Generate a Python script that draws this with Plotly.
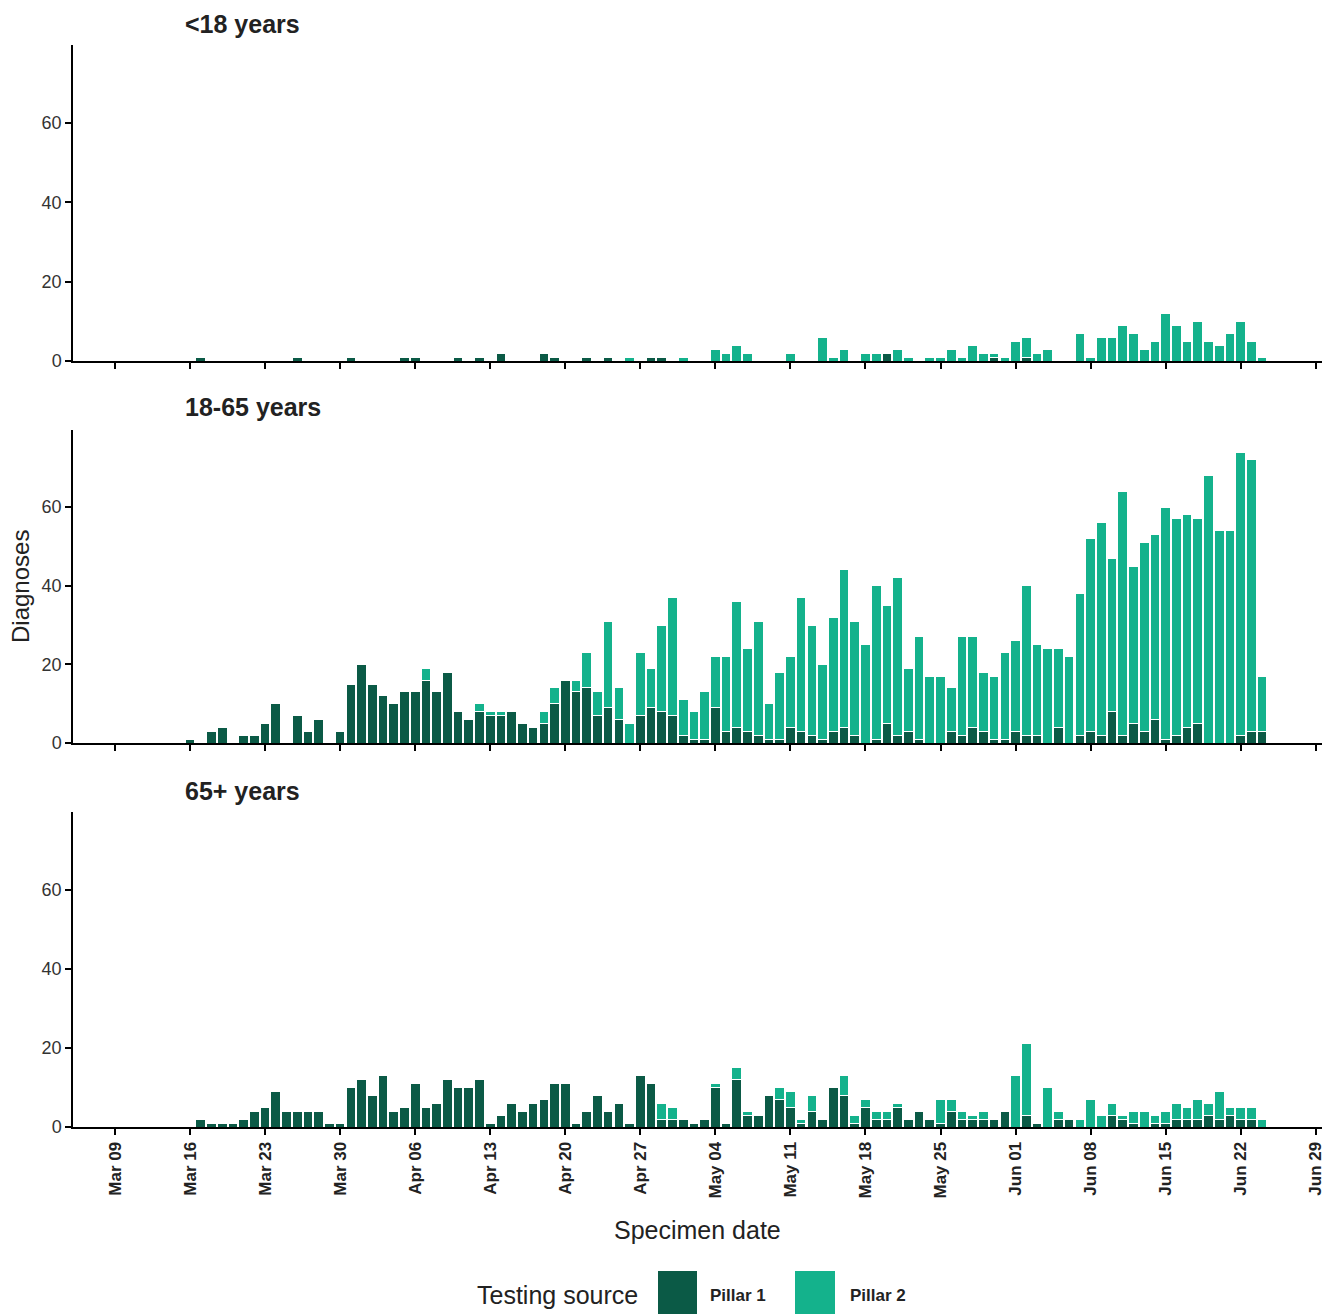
import pandas as pd
import plotly.graph_objects as go

# ---------------- data ----------------
dates = pd.date_range("2020-03-16", "2020-06-24", freq="D")

panel_titles = ["<18 years", "18-65 years", "65+ years"]
series_names = ["Pillar 1", "Pillar 2"]
legend_title = "Testing source"
tick_dates = pd.date_range("2020-03-09", "2020-06-29", freq="7D")
y_ticks = [0, 20, 40, 60]

# <18 years
u18_p1 = ([0, 1, 0, 0, 0, 0, 0, 0, 0, 0, 1, 0, 0, 0, 0, 1]
          + [0, 0, 0, 0, 1, 1, 0, 0, 0, 1, 0, 1, 0, 2, 0, 0, 0, 2, 1, 0, 0, 1, 0, 1, 0, 0, 0, 1, 1, 0]
          + [0, 0, 0, 0, 0, 0, 0, 0, 0, 0, 0, 0, 0, 0, 0, 0, 0, 0, 0, 2, 0, 0, 0, 0, 0, 0, 0, 0, 0, 1, 0]
          + [0, 1, 0, 0, 0, 0, 0, 0, 0, 0, 0, 0, 0, 0, 0, 0, 0, 0, 0, 0, 0, 0, 0, 0])
u18_p2 = ([0] * 16
          + [0] * 25 + [1, 0, 0, 0, 0]
          + [1, 0, 0, 3, 2, 4, 2, 0, 0, 0, 2, 0, 0, 6, 1, 3, 0, 2, 2, 0, 3, 1, 0, 1, 1, 3, 1, 4, 2, 1, 1]
          + [5, 5, 2, 3, 0, 0, 7, 1, 6, 6, 9, 7, 3, 5, 12, 9, 5, 10, 5, 4, 7, 10, 5, 1])

# 18-65 years
adult_p1 = ([1, 0, 3, 4, 0, 2, 2, 5, 10, 0, 7, 3, 6, 0, 3, 15]
            + [20, 15, 12, 10, 13, 13, 16, 13, 18, 8, 6, 8, 7, 7, 8, 5, 4, 5, 10, 16, 13, 14, 7, 9, 6, 0, 7, 9, 8, 7]
            + [2, 1, 1, 9, 3, 4, 3, 2, 1, 1, 4, 3, 2, 1, 3, 4, 2, 0, 1, 5, 2, 3, 1, 0, 0, 3, 2, 4, 3, 1, 1]
            + [3, 2, 2, 0, 4, 0, 2, 3, 2, 8, 2, 5, 3, 6, 1, 2, 4, 5, 0, 0, 0, 2, 3, 3])
adult_p2 = ([0] * 16
            + [0, 0, 0, 0, 0, 0, 3, 0, 0, 0, 0, 2, 1, 1, 0, 0, 0, 3, 4, 0, 3, 9, 6, 22, 8, 5, 16, 10, 22, 30]
            + [9, 7, 12, 13, 19, 32, 21, 29, 9, 17, 18, 34, 28, 19, 29, 40, 29, 25, 39, 30, 40, 16, 26, 17, 17, 11, 25, 23, 15, 16, 22]
            + [23, 38, 23, 24, 20, 22, 36, 49, 54, 39, 62, 40, 48, 47, 59, 55, 54, 52, 68, 54, 54, 72, 69, 14])

# 65+ years
old_p1 = ([0, 2, 1, 1, 1, 2, 4, 5, 9, 4, 4, 4, 4, 1, 1, 10]
          + [12, 8, 13, 4, 5, 11, 5, 6, 12, 10, 10, 12, 1, 3, 6, 4, 6, 7, 11, 11, 1, 4, 8, 4, 6, 1, 13, 11, 2, 2]
          + [2, 1, 2, 10, 1, 12, 3, 3, 8, 7, 5, 1, 4, 2, 10, 8, 1, 5, 2, 2, 5, 2, 4, 2, 1, 4, 2, 2, 2, 2, 4]
          + [0, 3, 1, 0, 2, 2, 0, 0, 0, 3, 2, 1, 0, 1, 1, 2, 2, 2, 3, 2, 3, 2, 2, 0])
old_p2 = ([0] * 16
          + [0] * 28 + [4, 3]
          + [0, 0, 0, 1, 0, 3, 1, 0, 0, 3, 4, 1, 4, 0, 0, 5, 2, 2, 2, 2, 1, 0, 0, 0, 6, 3, 2, 1, 2, 0, 0]
          + [13, 18, 0, 10, 2, 0, 2, 7, 3, 3, 1, 3, 4, 2, 3, 4, 3, 5, 3, 7, 2, 3, 3, 2])

panels = [(u18_p1, u18_p2), (adult_p1, adult_p2), (old_p1, old_p2)]

# ---------------- style ----------------
W, H = 1330, 1314
colors = ["#0b5a46", "#14b28c"]
FONT = "Liberation Sans, Arial, sans-serif"
TXT = "#222222"

x_left, x_right = 73, 1322
panel_px = [(45, 361), (430, 743), (812, 1127)]  # (top, bottom) in pixels


def px(p):
    return p / W


def py(p):
    return 1 - p / H


fig = go.Figure()

for i, (p1, p2) in enumerate(panels):
    sfx = "" if i == 0 else str(i + 1)
    for j, vals in enumerate((p1, p2)):
        fig.add_trace(go.Bar(
            x=dates, y=[v if v else None for v in vals],
            name=series_names[j],
            marker=dict(color=colors[j], line=dict(color="white", width=1)),
            xaxis="x" + sfx, yaxis="y" + sfx,
            showlegend=False, legendgroup=series_names[j],
        ))

layout_axes = {}
for i, (top, bot) in enumerate(panel_px):
    sfx = "" if i == 0 else str(i + 1)
    layout_axes["xaxis" + sfx] = dict(
        domain=[px(x_left), px(x_right)], anchor="y" + sfx,
        type="date",
        range=["2020-03-05 02:00", "2020-06-29 14:00"],
        tickvals=list(tick_dates), tickformat="%b %d",
        showticklabels=(i == 2), tickangle=-90,
        tickfont=dict(family=FONT, size=17, color=TXT, weight="bold"),
        showline=True, linecolor="black", linewidth=2,
        ticks="outside", ticklen=6, tickwidth=1.5, tickcolor="black",
        showgrid=False, zeroline=False,
        matches="x" if i else None,
    )
    layout_axes["yaxis" + sfx] = dict(
        domain=[py(bot), py(top)], anchor="x" + sfx,
        range=[0, 79.6], tickvals=y_ticks,
        tickfont=dict(family=FONT, size=18, color="#333333"),
        showline=True, linecolor="black", linewidth=1.5,
        ticks="outside", ticklen=6, tickwidth=1.5, tickcolor="black",
        showgrid=False, zeroline=False,
    )

annotations = []
title_y = [24, 407, 791]
for t, yy in zip(panel_titles, title_y):
    annotations.append(dict(
        text="<b>%s</b>" % t, x=px(183), y=py(yy), xref="paper", yref="paper",
        xanchor="left", yanchor="middle", showarrow=False,
        font=dict(family=FONT, size=25, color=TXT)))
annotations.append(dict(
    text="Diagnoses", x=px(20), y=py(587), xref="paper", yref="paper",
    xanchor="center", yanchor="middle", textangle=-90, showarrow=False,
    font=dict(family=FONT, size=24, color=TXT)))
annotations.append(dict(
    text="Specimen date", x=px((x_left + x_right) / 2), y=py(1230), xref="paper", yref="paper",
    xanchor="center", yanchor="middle", showarrow=False,
    font=dict(family=FONT, size=25, color=TXT)))

# legend (keys + labels)
annotations.append(dict(
    text=legend_title, x=px(475), y=py(1295), xref="paper", yref="paper",
    xanchor="left", yanchor="middle", showarrow=False,
    font=dict(family=FONT, size=25, color=TXT)))
shapes = []
key_x = [(658, 697), (795, 835)]
label_x = [708, 848]
for j in range(2):
    shapes.append(dict(
        type="rect", xref="paper", yref="paper",
        x0=px(key_x[j][0]), x1=px(key_x[j][1]), y0=py(1314), y1=py(1271),
        fillcolor=colors[j], line=dict(width=0)))
    annotations.append(dict(
        text="<b>%s</b>" % series_names[j], x=px(label_x[j]), y=py(1295),
        xref="paper", yref="paper", xanchor="left", yanchor="middle",
        showarrow=False, font=dict(family=FONT, size=17, color=TXT)))

fig.update_layout(
    width=W, height=H,
    margin=dict(l=0, r=0, t=0, b=0, autoexpand=False),
    paper_bgcolor="white", plot_bgcolor="white",
    barmode="stack", bargap=0.1,
    font=dict(family=FONT, color=TXT),
    annotations=annotations,
    shapes=shapes,
    showlegend=False,
    **layout_axes,
)

fig.write_html("out.html")
